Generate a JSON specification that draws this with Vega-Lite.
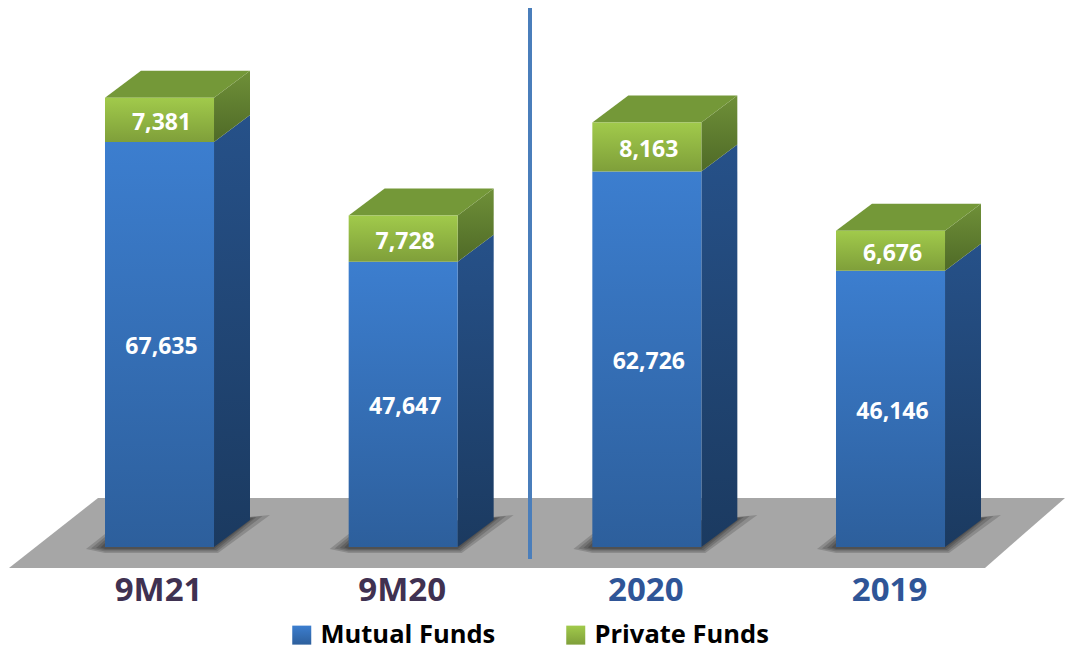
{"$schema":"https://vega.github.io/schema/vega-lite/v6.json","width":1065,"height":651,"autosize":{"type":"fit","contains":"padding"},"padding":0,"background":"white","view":{"stroke":null},
"config":{"axis":{"disable":true},"font":"Open Sans"},
"datasets":{
"bars":[
{"period":"9M21","series":"Mutual Funds","value":67635,"center":0,"left":-0.2237,"right":0.2237,"start":0,"end":67635,"mid":33818},
{"period":"9M21","series":"Private Funds","value":7381,"center":0,"left":-0.2237,"right":0.2237,"start":67635,"end":75016,"mid":71326},
{"period":"9M20","series":"Mutual Funds","value":47647,"center":1,"left":0.7763,"right":1.2237,"start":0,"end":47647,"mid":23824},
{"period":"9M20","series":"Private Funds","value":7728,"center":1,"left":0.7763,"right":1.2237,"start":47647,"end":55375,"mid":51511},
{"period":"2020","series":"Mutual Funds","value":62726,"center":2,"left":1.7763,"right":2.2237,"start":0,"end":62726,"mid":31363},
{"period":"2020","series":"Private Funds","value":8163,"center":2,"left":1.7763,"right":2.2237,"start":62726,"end":70889,"mid":66808},
{"period":"2019","series":"Mutual Funds","value":46146,"center":3,"left":2.7763,"right":3.2237,"start":0,"end":46146,"mid":23073},
{"period":"2019","series":"Private Funds","value":6676,"center":3,"left":2.7763,"right":3.2237,"start":46146,"end":52822,"mid":49484}],
"sideMutual":[
{"period":"9M21","pos":0.2237,"lo":0,"hi":67635},{"period":"9M21","pos":0.3714,"lo":4509,"hi":72144},
{"period":"9M20","pos":1.2237,"lo":0,"hi":47647},{"period":"9M20","pos":1.3714,"lo":4509,"hi":52156},
{"period":"2020","pos":2.2237,"lo":0,"hi":62726},{"period":"2020","pos":2.3714,"lo":4509,"hi":67235},
{"period":"2019","pos":3.2237,"lo":0,"hi":46146},{"period":"2019","pos":3.3714,"lo":4509,"hi":50655}],
"sidePrivate":[
{"period":"9M21","pos":0.2237,"lo":67635,"hi":75016},{"period":"9M21","pos":0.3714,"lo":72144,"hi":79525},
{"period":"9M20","pos":1.2237,"lo":47647,"hi":55375},{"period":"9M20","pos":1.3714,"lo":52156,"hi":59884},
{"period":"2020","pos":2.2237,"lo":62726,"hi":70889},{"period":"2020","pos":2.3714,"lo":67235,"hi":75398},
{"period":"2019","pos":3.2237,"lo":46146,"hi":52822},{"period":"2019","pos":3.3714,"lo":50655,"hi":57331}],
"tops":[
{"period":"9M21","pos":-0.2237,"lo":75016,"hi":75016},{"period":"9M21","pos":-0.076,"lo":75016,"hi":79525},{"period":"9M21","pos":0.2237,"lo":75016,"hi":79525},{"period":"9M21","pos":0.3714,"lo":79525,"hi":79525},
{"period":"9M20","pos":0.7763,"lo":55375,"hi":55375},{"period":"9M20","pos":0.924,"lo":55375,"hi":59884},{"period":"9M20","pos":1.2237,"lo":55375,"hi":59884},{"period":"9M20","pos":1.3714,"lo":59884,"hi":59884},
{"period":"2020","pos":1.7763,"lo":70889,"hi":70889},{"period":"2020","pos":1.924,"lo":70889,"hi":75398},{"period":"2020","pos":2.2237,"lo":70889,"hi":75398},{"period":"2020","pos":2.3714,"lo":75398,"hi":75398},
{"period":"2019","pos":2.7763,"lo":52822,"hi":52822},{"period":"2019","pos":2.924,"lo":52822,"hi":57331},{"period":"2019","pos":3.2237,"lo":52822,"hi":57331},{"period":"2019","pos":3.3714,"lo":57331,"hi":57331}],
"floor":[{"pos":-0.6176,"lo":-3507,"hi":-3507},{"pos":-0.2524,"lo":-3507,"hi":8183},{"pos":3.3877,"lo":-3507,"hi":8183},{"pos":3.7161,"lo":8183,"hi":8183}],
"shadows":[
{"s":"a4","pos":-0.3016,"lo":-334,"hi":-334},{"s":"a4","pos":-0.2237,"lo":-1002,"hi":2171},{"s":"a4","pos":0.2401,"lo":-1002,"hi":4509},{"s":"a4","pos":0.4535,"lo":5344,"hi":5344},
{"s":"a3","pos":-0.2811,"lo":-250,"hi":-250},{"s":"a3","pos":-0.2237,"lo":-752,"hi":1670},{"s":"a3","pos":0.236,"lo":-752,"hi":4509},{"s":"a3","pos":0.4227,"lo":5177,"hi":5177},
{"s":"a2","pos":-0.2606,"lo":-167,"hi":-167},{"s":"a2","pos":-0.2237,"lo":-501,"hi":1169},{"s":"a2","pos":0.2319,"lo":-501,"hi":4509},{"s":"a2","pos":0.3981,"lo":5010,"hi":5010},
{"s":"a1","pos":-0.2421,"lo":-84,"hi":-84},{"s":"a1","pos":-0.2237,"lo":-334,"hi":668},{"s":"a1","pos":0.2237,"lo":-334,"hi":4509},{"s":"a1","pos":0.3858,"lo":4843,"hi":4843},
{"s":"b4","pos":0.6984,"lo":-334,"hi":-334},{"s":"b4","pos":0.7763,"lo":-1002,"hi":2171},{"s":"b4","pos":1.2401,"lo":-1002,"hi":4509},{"s":"b4","pos":1.4535,"lo":5344,"hi":5344},
{"s":"b3","pos":0.7189,"lo":-250,"hi":-250},{"s":"b3","pos":0.7763,"lo":-752,"hi":1670},{"s":"b3","pos":1.236,"lo":-752,"hi":4509},{"s":"b3","pos":1.4227,"lo":5177,"hi":5177},
{"s":"b2","pos":0.7394,"lo":-167,"hi":-167},{"s":"b2","pos":0.7763,"lo":-501,"hi":1169},{"s":"b2","pos":1.2319,"lo":-501,"hi":4509},{"s":"b2","pos":1.3981,"lo":5010,"hi":5010},
{"s":"b1","pos":0.7579,"lo":-84,"hi":-84},{"s":"b1","pos":0.7763,"lo":-334,"hi":668},{"s":"b1","pos":1.2237,"lo":-334,"hi":4509},{"s":"b1","pos":1.3858,"lo":4843,"hi":4843},
{"s":"c4","pos":1.6984,"lo":-334,"hi":-334},{"s":"c4","pos":1.7763,"lo":-1002,"hi":2171},{"s":"c4","pos":2.2401,"lo":-1002,"hi":4509},{"s":"c4","pos":2.4535,"lo":5344,"hi":5344},
{"s":"c3","pos":1.7189,"lo":-250,"hi":-250},{"s":"c3","pos":1.7763,"lo":-752,"hi":1670},{"s":"c3","pos":2.236,"lo":-752,"hi":4509},{"s":"c3","pos":2.4227,"lo":5177,"hi":5177},
{"s":"c2","pos":1.7394,"lo":-167,"hi":-167},{"s":"c2","pos":1.7763,"lo":-501,"hi":1169},{"s":"c2","pos":2.2319,"lo":-501,"hi":4509},{"s":"c2","pos":2.3981,"lo":5010,"hi":5010},
{"s":"c1","pos":1.7579,"lo":-84,"hi":-84},{"s":"c1","pos":1.7763,"lo":-334,"hi":668},{"s":"c1","pos":2.2237,"lo":-334,"hi":4509},{"s":"c1","pos":2.3858,"lo":4843,"hi":4843},
{"s":"d4","pos":2.6984,"lo":-334,"hi":-334},{"s":"d4","pos":2.7763,"lo":-1002,"hi":2171},{"s":"d4","pos":3.2401,"lo":-1002,"hi":4509},{"s":"d4","pos":3.4535,"lo":5344,"hi":5344},
{"s":"d3","pos":2.7189,"lo":-250,"hi":-250},{"s":"d3","pos":2.7763,"lo":-752,"hi":1670},{"s":"d3","pos":3.236,"lo":-752,"hi":4509},{"s":"d3","pos":3.4227,"lo":5177,"hi":5177},
{"s":"d2","pos":2.7394,"lo":-167,"hi":-167},{"s":"d2","pos":2.7763,"lo":-501,"hi":1169},{"s":"d2","pos":3.2319,"lo":-501,"hi":4509},{"s":"d2","pos":3.3981,"lo":5010,"hi":5010},
{"s":"d1","pos":2.7579,"lo":-84,"hi":-84},{"s":"d1","pos":2.7763,"lo":-334,"hi":668},{"s":"d1","pos":3.2237,"lo":-334,"hi":4509},{"s":"d1","pos":3.3858,"lo":4843,"hi":4843}],
"divider":[{"pos":1.5205,"lo":-2004,"hi":90013}],
"periods":[{"period":"9M21","kind":"nine months","pos":0,"at":-7181},{"period":"9M20","kind":"nine months","pos":1,"at":-7181},{"period":"2020","kind":"full year","pos":2,"at":-7181},{"period":"2019","kind":"full year","pos":3,"at":-7181}]
},
"encoding":{
"x":{"type":"quantitative","scale":{"domain":[-0.6546,3.7161],"nice":false,"zero":false},"axis":null},
"y":{"type":"quantitative","scale":{"domain":[-17368,91349],"nice":false,"zero":false},"axis":null}
},
"layer":[
{"data":{"name":"floor"},"mark":{"type":"area","orient":"vertical","color":"#A6A6A6"},"encoding":{"x":{"field":"pos","type":"quantitative"},"y":{"field":"lo","type":"quantitative"},"y2":{"field":"hi"}}},
{"data":{"name":"shadows"},"mark":{"type":"area","orient":"vertical","color":"#000000","opacity":0.16},"encoding":{"x":{"field":"pos","type":"quantitative"},"y":{"field":"lo","type":"quantitative"},"y2":{"field":"hi"},"detail":{"field":"s"}}},
{"data":{"name":"divider"},"mark":{"type":"rule","color":"#4A7EBB","strokeWidth":4},"encoding":{"x":{"field":"pos","type":"quantitative"},"y":{"field":"lo","type":"quantitative"},"y2":{"field":"hi"}}},
{"data":{"name":"sideMutual"},"mark":{"type":"area","orient":"vertical","fill":{"gradient":"linear","x1":0,"y1":0,"x2":0,"y2":1,"stops":[{"offset":0,"color":"#265189"},{"offset":1,"color":"#1B3A60"}]}},"encoding":{"x":{"field":"pos","type":"quantitative"},"y":{"field":"lo","type":"quantitative"},"y2":{"field":"hi"},"detail":{"field":"period"}}},
{"data":{"name":"sidePrivate"},"mark":{"type":"area","orient":"vertical","fill":{"gradient":"linear","x1":0,"y1":0,"x2":0,"y2":1,"stops":[{"offset":0,"color":"#6F9038"},{"offset":1,"color":"#4F6A27"}]}},"encoding":{"x":{"field":"pos","type":"quantitative"},"y":{"field":"lo","type":"quantitative"},"y2":{"field":"hi"},"detail":{"field":"period"}}},
{"data":{"name":"tops"},"mark":{"type":"area","orient":"vertical","color":"#749838"},"encoding":{"x":{"field":"pos","type":"quantitative"},"y":{"field":"lo","type":"quantitative"},"y2":{"field":"hi"},"detail":{"field":"period"}}},
{"data":{"name":"bars"},"mark":{"type":"rect"},"encoding":{"x":{"field":"left","type":"quantitative"},"x2":{"field":"right"},"y":{"field":"start","type":"quantitative"},"y2":{"field":"end"},
"fill":{"field":"series","type":"nominal","scale":{"domain":["Mutual Funds","Private Funds"],"range":[{"expr":"{gradient:'linear',x1:0,y1:0,x2:0,y2:1,stops:[{offset:0,color:'#3C7ECF'},{offset:1,color:'#2D5F9C'}]}"},{"expr":"{gradient:'linear',x1:0,y1:0,x2:0,y2:1,stops:[{offset:0,color:'#A1CA4B'},{offset:1,color:'#7F9F3A'}]}"}]},
"legend":{"title":null,"orient":"none","legendX":289,"legendY":622,"direction":"horizontal","symbolType":"square","symbolSize":361,"symbolStrokeWidth":0,"labelFont":"Open Sans","labelFontWeight":"bold","labelFontSize":25.5,"labelColor":"#000000","labelOffset":6,"columnPadding":67,"labelLimit":300}}}},
{"data":{"name":"bars"},"mark":{"type":"text","color":"#FFFFFF","font":"Open Sans","fontWeight":"bold","fontSize":23,"dy":3,"dx":2},"encoding":{"x":{"field":"center","type":"quantitative"},"y":{"field":"mid","type":"quantitative"},"text":{"field":"value","type":"quantitative","format":","}}},
{"data":{"name":"periods"},"mark":{"type":"text","font":"Open Sans","fontWeight":"bold","fontSize":33,"dy":1,"dx":-1},"encoding":{"x":{"field":"pos","type":"quantitative"},"y":{"field":"at","type":"quantitative"},"text":{"field":"period"},"color":{"condition":{"test":"datum.kind === 'nine months'","value":"#3F3151"},"value":"#2F5597"}}}
]}
